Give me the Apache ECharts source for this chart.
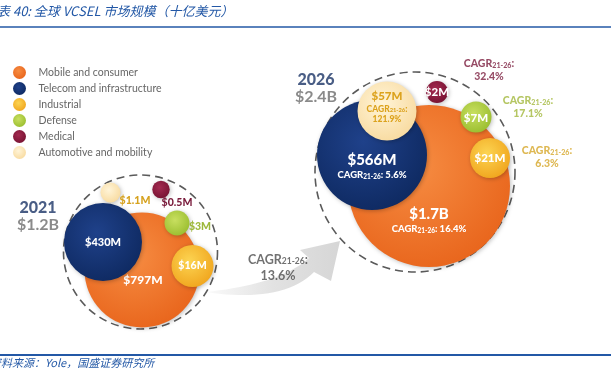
<!DOCTYPE html>
<html>
<head>
<meta charset="utf-8">
<script src="https://cdn.jsdelivr.net/npm/echarts@6/dist/echarts.min.js"></script>
<style>html,body{margin:0;padding:0;background:#fff;}#c{width:611px;height:379px;}</style>
</head>
<body>
<div id="c"></div>
<script>
// ---------- DATA ----------
const categories = ['Mobile and consumer', 'Telecom and infrastructure', 'Industrial', 'Defense', 'Medical', 'Automotive and mobility'];
const years = ['2021', '2026'];
const yearTotalsB = [1.2, 2.4];            // $B
const values2021 = [797, 430, 16, 3, 0.5, 1.1];   // $M
const values2026 = [1700, 566, 21, 7, 2, 57];     // $M
const cagr2126 = [16.4, 5.6, 6.3, 17.1, 32.4, 121.9]; // %
const totalCagr = 13.6;                    // %
const cagrPeriod = '21-26';
const titleText = '图表 40: 全球 VCSEL 市场规模（十亿美元）';
const sourceText = '资料来源：Yole，国盛证券研究所';

// ---------- STYLE / LAYOUT ----------
const palette = [
  ['#f68c42', '#e8641b'],
  ['#1f418a', '#0e2960'],
  ['#fcd452', '#f0a41c'],
  ['#c8df60', '#99bd2e'],
  ['#a32a50', '#761231'],
  ['#fff4d8', '#f8da9e']
];
const labelColor = ['#ffffff', '#ffffff', '#ffffff', '#9db83a', '#7a1c3c', '#d6a21f'];
const cagrColor = ['#ffffff', '#ffffff', '#d6a628', '#a2b83c', '#7a1c3c', '#dba21e'];
const layout = [
  { ring: [140.5, 252, 77], header: [38, 216],
    bubbles: [[142, 270, 57.5], [103, 242, 39], [192.5, 266, 21], [177, 223, 12.5], [161, 189.5, 8.7], [110.5, 192.5, 10]],
    labelOffset: [[1, 10], [0, 0], [0, 0], [23, 4], [16, 13.5], [24.5, 8.5]],
    labelSize: [12, 11, 10.5, 10.5, 10.5, 10.5] },
  { ring: [415, 172, 100], header: [316, 88],
    bubbles: [[429, 186, 81], [372, 155, 55], [490, 158, 20], [476, 117, 15.5], [437, 92, 11], [387, 111, 29.5]],
    labelOffset: [[0, 34], [0, 11], [0, 0], [0, 1], [0, 0], [0, -4]],
    labelSize: [15, 15, 11.5, 11.5, 11.5, 11.5] }
];
const outerCagrPos = { 2: [547, 157], 3: [528, 107], 4: [489, 70] };
const arrowTextPos = [278, 268];

// ---------- HELPERS ----------
function money(v) { return v >= 1000 ? '$' + (v / 1000) + 'B' : '$' + v + 'M'; }
function grad(c) {
  return { type: 'radial', x: 0.42, y: 0.38, r: 0.68,
    colorStops: [{ offset: 0, color: c[0] }, { offset: 1, color: c[1] }] };
}
function cagrRich(color, size, csize) {
  csize = csize || 9;
  return {
    v: { fontFamily: 'Lato', fontWeight: 900, fontSize: size, color: color, lineHeight: size + 3 },
    c: { fontFamily: 'Lato', fontWeight: 900, fontSize: csize, color: color, lineHeight: csize + 2 },
    s: { fontFamily: 'Lato', fontWeight: 900, fontSize: csize * 0.68, color: color, lineHeight: csize * 0.7, verticalAlign: 'bottom', padding: [0, 0, 1, 0] }
  };
}
const cg = '{c|CAGR}{s|' + cagrPeriod + '}{c|:';

function bez(p0, p1, p2, p3, n) {
  const pts = [];
  for (let k = 0; k <= n; k++) {
    const t = k / n, u = 1 - t;
    pts.push([u*u*u*p0[0] + 3*u*u*t*p1[0] + 3*u*t*t*p2[0] + t*t*t*p3[0],
              u*u*u*p0[1] + 3*u*u*t*p1[1] + 3*u*t*t*p2[1] + t*t*t*p3[1]]);
  }
  return pts;
}
const arrowPts = [].concat(
  bez([206, 292], [250, 299], [292, 295], [314, 272], 20),
  [[331, 281], [340, 241], [300, 250]],
  bez([309, 258], [288, 277], [252, 287], [206, 292], 20)
);

const yearValues = [values2021, values2026];
const series = [];

series.push({
  name: 'ring', type: 'scatter', z: 1, silent: true,
  data: layout.map(l => ({ value: [l.ring[0], l.ring[1]], symbolSize: l.ring[2] * 2 })),
  itemStyle: { opacity: 1, color: 'rgba(0,0,0,0)', borderColor: '#5a5a5a', borderWidth: 1.6, borderType: [8, 5] }
});

categories.forEach((cat, i) => {
  const data = [];
  years.forEach((y, yi) => {
    const L = layout[yi];
    const b = L.bubbles[i];
    const v = yearValues[yi][i];
    let fmt, rich;
    const size = L.labelSize[i];
    if (yi === 1 && (i === 0 || i === 1)) {
      fmt = '{v|' + money(v) + '}\n' + cg + ' ' + cagr2126[i] + '%}';
      rich = cagrRich('#ffffff', size, 9.5);
    } else if (yi === 1 && i === 5) {
      fmt = '{v|' + money(v) + '}\n' + cg + '}\n{c|' + cagr2126[i] + '%}';
      rich = cagrRich('#dca21c', size, 8.5);
      rich.v.lineHeight = 15;
    } else {
      fmt = '{v|' + money(v) + '}';
      rich = cagrRich(yi === 1 ? '#ffffff' : labelColor[i], size);
    }
    data.push({
      value: [b[0], b[1], v], symbolSize: b[2] * 2,
      label: { show: true, position: 'inside', offset: L.labelOffset[i], formatter: fmt, rich: rich }
    });
  });
  series.push({
    name: cat, type: 'scatter', z: 2 + i, silent: true,
    data: data,
    itemStyle: { opacity: 1, color: grad(palette[i]), shadowBlur: 4, shadowColor: 'rgba(0,0,0,0.25)', shadowOffsetX: 1, shadowOffsetY: 1 }
  });
});

const notes = [];
years.forEach((y, yi) => {
  notes.push({
    value: layout[yi].header,
    label: { formatter: '{y|' + y + '}\n{t|$' + yearTotalsB[yi] + 'B}',
      rich: { y: { fontFamily: 'Lato', fontWeight: 900, fontSize: 16, color: '#1c3566', lineHeight: 17 },
              t: { fontFamily: 'Lato', fontWeight: 'bold', fontSize: 16, color: '#6d6d6d', lineHeight: 17 } } }
  });
});
Object.keys(outerCagrPos).forEach(k => {
  const i = +k;
  notes.push({ value: outerCagrPos[k],
    label: { formatter: cg + '}\n{c|' + cagr2126[i] + '%}', rich: cagrRich(cagrColor[i], 10, 10.5) } });
});
notes.push({ value: arrowTextPos,
  label: { formatter: '{c|CAGR}{s|' + cagrPeriod + '}{c|:}\n{c|' + totalCagr + '%}',
    rich: { c: { fontFamily: 'Lato', fontWeight: 'bold', fontSize: 12.5, color: '#4d4d4d', lineHeight: 16 },
            s: { fontFamily: 'Lato', fontWeight: 'bold', fontSize: 8.5, color: '#4d4d4d', lineHeight: 9, verticalAlign: 'bottom', padding: [0, 0, 2, 0] } } } });
series.push({
  name: 'notes', type: 'scatter', z: 20, silent: true, symbolSize: 0,
  data: notes.map(n => ({ value: n.value, label: Object.assign({ show: true, position: 'inside' }, n.label) }))
});

const chart = echarts.init(document.getElementById('c'), null, { renderer: 'canvas' });
chart.setOption({
  animation: false,
  backgroundColor: '#ffffff',
  grid: { left: 0, right: 0, top: 0, bottom: 0 },
  xAxis: { type: 'value', min: 0, max: 611, show: false },
  yAxis: { type: 'value', min: 0, max: 379, inverse: true, show: false },
  legend: {
    data: categories, orient: 'vertical', left: 13, top: 66, padding: 0,
    icon: 'circle', itemWidth: 28, itemHeight: 13, itemGap: 3, selectedMode: false,
    itemStyle: { opacity: 1 },
    textStyle: { fontFamily: 'Lato', fontSize: 10.5, color: '#666666', lineHeight: 13 }
  },
  graphic: [
    { type: 'text', x: -16, y: 5, style: { text: titleText, font: 'italic 13px "Noto Sans CJK SC"', fill: '#2358a6' } },
    { type: 'line', shape: { x1: 0, y1: 27, x2: 611, y2: 27 }, style: { stroke: '#2358a6', lineWidth: 1.5 } },
    { type: 'line', shape: { x1: 0, y1: 355, x2: 611, y2: 355 }, style: { stroke: '#2358a6', lineWidth: 2 } },
    { type: 'text', x: -10, y: 357, style: { text: sourceText, font: 'italic 11px "Noto Sans CJK SC"', fill: '#2358a6' } },
    { type: 'polygon', z: 0, shape: { points: arrowPts },
      style: { fill: { type: 'linear', x: 0, y: 0, x2: 1, y2: 0,
        colorStops: [{ offset: 0, color: 'rgba(225,225,225,0.15)' }, { offset: 0.5, color: '#e2e2e2' }, { offset: 1, color: '#d6d6d6' }] } } }
  ],
  series: series
});
</script>
</body>
</html>
